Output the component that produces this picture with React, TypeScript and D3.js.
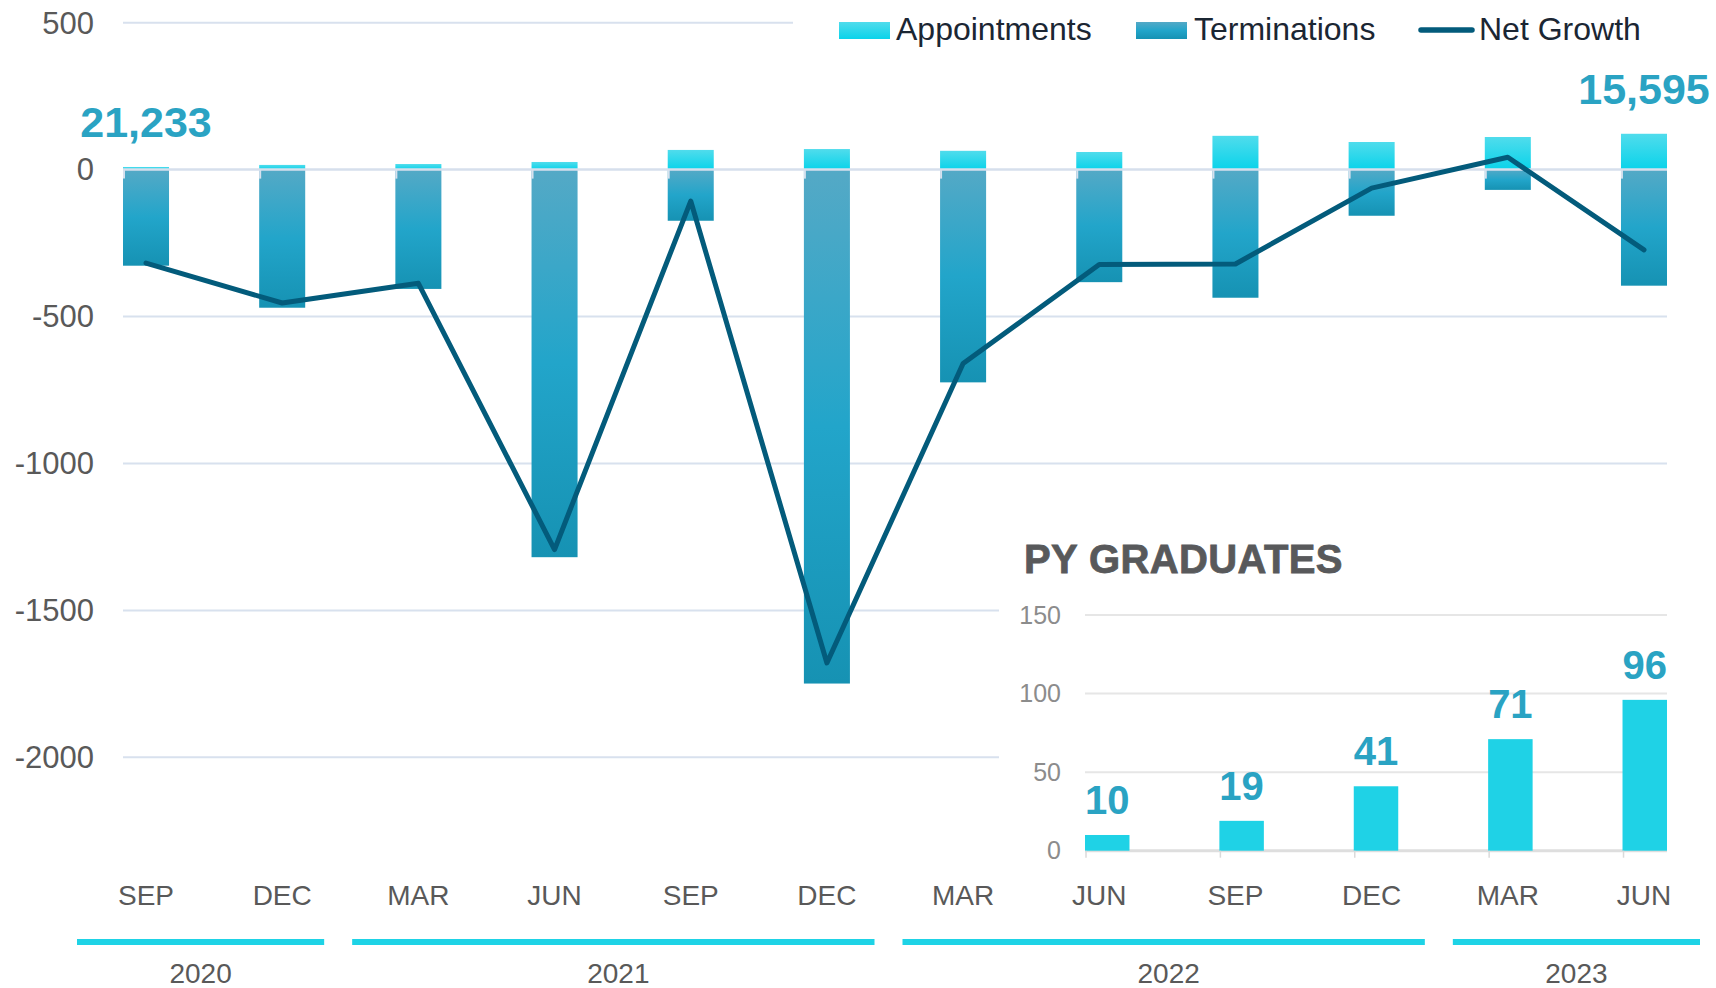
import React from "react";
import * as d3 from "d3";

const quarters = ["SEP", "DEC", "MAR", "JUN", "SEP", "DEC", "MAR", "JUN", "SEP", "DEC", "MAR", "JUN"];
const appointments = [9, 16, 19, 26, 67, 70, 64, 60, 115, 94, 111, 122];
const terminations = [-327, -470, -406, -1319, -174, -1749, -724, -383, -436, -157, -69, -395];
const netGrowth = [-318, -454, -387, -1293, -107, -1679, -660, -323, -321, -63, 42, -273];
const yTicks = [500, 0, -500, -1000, -1500, -2000];

const yearLabels = ["2020", "2021", "2022", "2023"];
const yearSpans = [2, 4, 4, 2];

const totalLabels = ["21,233", "15,595"];
const totalIndex = [0, 11];

const gradQuarters = ["JUN", "SEP", "DEC", "MAR", "JUN"];
const gradValues = [10, 19, 41, 71, 96];
const gradTicks = [0, 50, 100, 150];

const FONT = "'Liberation Sans', Arial, Helvetica, sans-serif";

export default function App() {
  const W = 1716;
  const H = 988;

  const keys = quarters.map((_, i) => String(i));
  const x = d3.scaleBand<string>().domain(keys).range([123, 1667]).paddingInner(0.662).paddingOuter(0);
  const y = d3.scaleLinear().domain([-2000, 500]).range([757.3, 22.7]);
  const bw = x.bandwidth();

  const line = d3
    .line<number>()
    .x((_, i) => (x(String(i)) as number) + bw / 2)
    .y((d) => y(d));

  // year band scale
  const yearX = d3.scaleLinear().domain([0, quarters.length]).range([63, 1714]);
  const yearStarts: number[] = [];
  yearSpans.reduce((acc, s) => {
    yearStarts.push(acc);
    return acc + s;
  }, 0);

  // inset
  const gKeys = gradQuarters.map((_, i) => String(i));
  const gx = d3.scaleBand<string>().domain(gKeys).range([1085, 1667]).paddingInner(0.669).paddingOuter(0);
  const gy = d3.scaleLinear().domain([0, 150]).range([850.7, 615]);
  const gbw = gx.bandwidth();

  return (
    <svg
      width={W}
      height={H}
      viewBox={`0 0 ${W} ${H}`}
      style={{ position: "absolute", left: 0, top: 0, background: "#fff" }}
      fontFamily={FONT}
    >
      <defs>
        <linearGradient id="gradAppt" x1="0" y1="0" x2="0" y2="1">
          <stop offset="0%" stopColor="#50DCEC" />
          <stop offset="100%" stopColor="#0AD3EA" />
        </linearGradient>
        <linearGradient id="gradTerm" x1="0" y1="0" x2="0" y2="1">
          <stop offset="0%" stopColor="#54A9C6" />
          <stop offset="50%" stopColor="#22A5CA" />
          <stop offset="100%" stopColor="#1692B3" />
        </linearGradient>
      </defs>
      <rect x={0} y={0} width={W} height={H} fill="#fff" />

      {/* gridlines */}
      {yTicks
        .filter((t) => t !== 0)
        .map((t) => (
          <line key={"g" + t} x1={123} x2={1667} y1={y(t)} y2={y(t)} stroke="#D8E1EE" strokeWidth={2} />
        ))}
      {yTicks.map((t) => (
        <text key={"yl" + t} x={94} y={y(t)} dy="0.35em" textAnchor="end" fontSize={31} fill="#595959">
          {t}
        </text>
      ))}

      {/* bars */}
      {quarters.map((_, i) => {
        const bx = x(String(i)) as number;
        return (
          <g key={"b" + i}>
            <rect x={bx} y={y(appointments[i])} width={bw} height={y(0) - y(appointments[i])} fill="url(#gradAppt)" />
            <rect x={bx} y={y(0)} width={bw} height={y(terminations[i]) - y(0)} fill="url(#gradTerm)" />
          </g>
        );
      })}

      {/* zero axis */}
      <line x1={123} x2={1667} y1={y(0)} y2={y(0)} stroke="#D6DFEC" strokeWidth={2.5} />
      {quarters.map((_, i) => {
        const bx = x(String(i)) as number;
        return <line key={"t" + i} x1={bx + 1} x2={bx + 1} y1={y(0)} y2={y(0) + 9} stroke="#D6E1EE" strokeWidth={2} />;
      })}

      {/* net growth line */}
      <path d={line(netGrowth) || ""} fill="none" stroke="#035B7B" strokeWidth={5} strokeLinejoin="round" strokeLinecap="round" />

      {/* total labels */}
      {totalLabels.map((lab, k) => {
        const i = totalIndex[k];
        return (
          <text
            key={"tot" + k}
            x={(x(String(i)) as number) + bw / 2}
            y={y(appointments[i]) - 30}
            textAnchor="middle"
            fontSize={43}
            fontWeight="bold"
            fill="#2AA3C3"
          >
            {lab}
          </text>
        );
      })}

      {/* legend */}
      <rect x={793} y={0} width={W - 793} height={56} fill="#fff" />
      <rect x={839} y={22} width={51} height={17} fill="url(#gradAppt)" />
      <text x={896} y={40} fontSize={32} fill="#1B2633">Appointments</text>
      <rect x={1136} y={22} width={51} height={17} fill="url(#gradTerm)" />
      <text x={1194} y={40} fontSize={32} fill="#1B2633">Terminations</text>
      <line x1={1421} x2={1472} y1={30} y2={30} stroke="#035B7B" strokeWidth={5.5} strokeLinecap="round" />
      <text x={1479} y={40} fontSize={32} fill="#1B2633">Net Growth</text>

      {/* category labels */}
      {quarters.map((q, i) => (
        <text key={"q" + i} x={(x(String(i)) as number) + bw / 2} y={905} textAnchor="middle" fontSize={28} fill="#595959">
          {q}
        </text>
      ))}

      {/* year bands */}
      {yearLabels.map((yl, k) => {
        const x0 = yearX(yearStarts[k]) + 14;
        const x1 = yearX(yearStarts[k] + yearSpans[k]) - 14;
        return (
          <g key={"yr" + yl}>
            <rect x={x0} y={939} width={x1 - x0} height={6} fill="#1ED3E6" />
            <text x={(x0 + x1) / 2 + (yearSpans[k] > 2 ? 5 : 0)} y={983} textAnchor="middle" fontSize={28} fill="#595959">
              {yl}
            </text>
          </g>
        );
      })}

      {/* inset: PY graduates */}
      <rect x={999} y={532} width={690} height={332} fill="#fff" />
      <text
        x={1024}
        y={573}
        fontSize={40}
        fontWeight="bold"
        fill="#58595B"
        stroke="#58595B"
        strokeWidth={0.8}
        letterSpacing={0.4}
      >
        PY GRADUATES
      </text>
      {gradTicks.map((t) => (
        <g key={"gt" + t}>
          <line x1={1085} x2={1667} y1={gy(t)} y2={gy(t)} stroke={t === 0 ? "#DEDEDE" : "#E6E6E6"} strokeWidth={t === 0 ? 3 : 2} />
          <text x={1061} y={gy(t)} dy="0.35em" textAnchor="end" fontSize={25} fill="#8C8C8C">
            {t}
          </text>
        </g>
      ))}
      {gradValues.map((v, i) => {
        const bx = gx(String(i)) as number;
        return (
          <g key={"gb" + i}>
            <rect x={bx} y={gy(v)} width={gbw} height={gy(0) - gy(v)} fill="#1FD2E6" />
            <line x1={bx + 1} x2={bx + 1} y1={gy(0)} y2={gy(0) + 7} stroke="#DADADA" strokeWidth={1.5} />
            <text x={bx + gbw / 2} y={gy(v) - 21} textAnchor="middle" fontSize={40} fontWeight="bold" fill="#2AA3C3">
              {v}
            </text>
          </g>
        );
      })}
    </svg>
  );
}
